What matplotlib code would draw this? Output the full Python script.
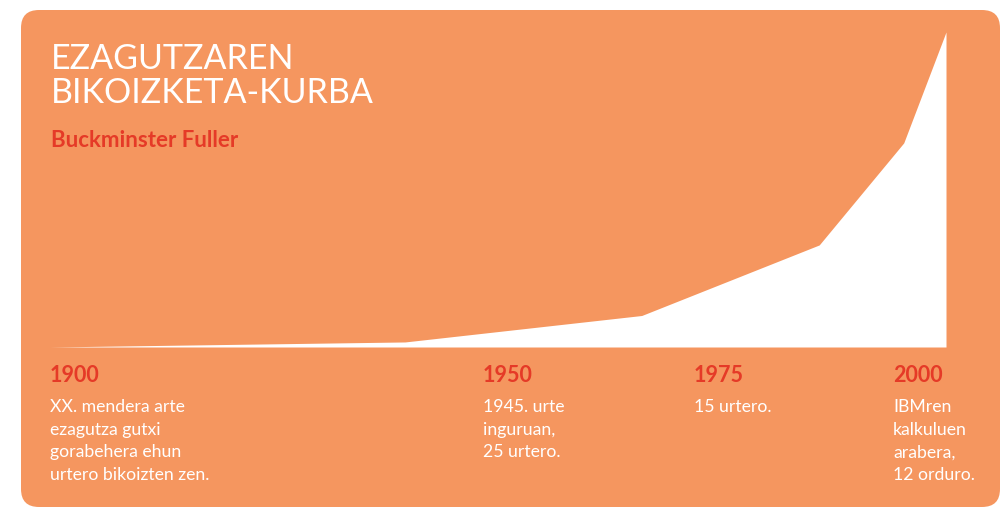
import matplotlib
matplotlib.use("Agg")
import matplotlib.pyplot as plt
from matplotlib.patches import FancyBboxPatch
from matplotlib.transforms import IdentityTransform

W, H = 1006, 507
ORANGE = "#F5965F"
RED = "#E53A27"
FONT = ["Lato", "DejaVu Sans"]

# doubling curve (relative amount of knowledge)
curve_years = [1900, 1942, 1970, 1991, 2001, 2006]
curve_values = [0, 1.6, 10, 32.4, 64.8, 100]

title_lines = ["EZAGUTZAREN", "BIKOIZKETA-KURBA"]
subtitle = "Buckminster Fuller"

label_years = ["1900", "1950", "1975", "2000"]
label_notes = [
    ["XX. mendera arte", "ezagutza gutxi", "gorabehera ehun", "urtero bikoizten zen."],
    ["1945. urte", "inguruan,", "25 urtero."],
    ["15 urtero."],
    ["IBMren", "kalkuluen", "arabera,", "12 orduro."],
]

# layout (pixels from top-left)
label_px = [50, 483, 694, 893]


def fy(py):
    return 1 - py / H


fig = plt.figure(figsize=(W / 100, H / 100), dpi=100)
fig.patch.set_facecolor("white")

bg = FancyBboxPatch((21, 0), 979, H - 10, boxstyle="round,pad=0,rounding_size=18",
                    transform=IdentityTransform(), facecolor=ORANGE, edgecolor="none",
                    zorder=-1)
fig.patches.append(bg)

ax = fig.add_axes([50 / W, (H - 347) / H, (946 - 50) / W, (347 - 32) / H])
ax.fill_between(curve_years, curve_values, 0, color="white", lw=0)
ax.set_xlim(1900, 2006)
ax.set_ylim(0, 100)
ax.axis("off")

for i, line in enumerate(title_lines):
    fig.text(51 / W, fy(69 + 34 * i), line, color="white", fontsize=24.5,
             family=FONT, fontweight="normal", va="baseline")

fig.text(51 / W, fy(147), subtitle, color=RED, fontsize=16,
         family=FONT, fontweight="bold", va="baseline")

for x, yr, notes in zip(label_px, label_years, label_notes):
    fig.text(x / W, fy(382), yr, color=RED, fontsize=15.5,
             family=FONT, fontweight="bold", va="baseline")
    for j, line in enumerate(notes):
        fig.text(x / W, fy(412 + 22.7 * j), line, color="white", fontsize=12.7,
                 family=FONT, va="baseline")

fig.savefig("out.png", dpi=100)
